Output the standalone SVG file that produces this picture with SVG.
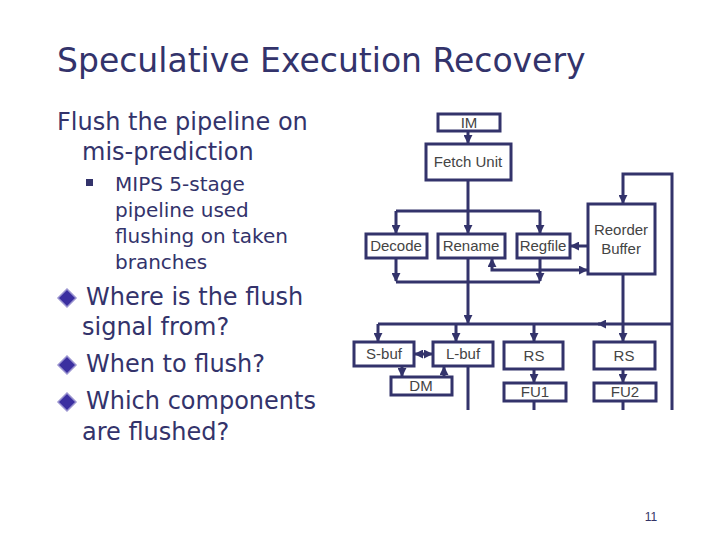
<svg xmlns="http://www.w3.org/2000/svg" width="720" height="540" viewBox="0 0 720 540">
<defs>
<style>
.t{font-family:"DejaVu Sans",sans-serif;fill:#33336b}
.b{fill:#fff;stroke:#33336b;stroke-width:3}
.l{fill:none;stroke:#33336b;stroke-width:3}
.n{font-family:"Liberation Sans",Arial,sans-serif;font-size:15px;fill:#444;text-anchor:middle}
</style>
<marker id="a" viewBox="0 0 10 10" refX="9" refY="5" markerWidth="3" markerHeight="3" orient="auto-start-reverse"><path d="M0,0L10,5L0,10z" fill="#33336b"/></marker>
</defs>
<rect width="720" height="540" fill="#fff"/>
<text class="t" x="57" y="72" font-size="33">Speculative Execution Recovery</text>
<text class="t" font-size="24"><tspan x="57" y="130">Flush the pipeline on</tspan><tspan x="82" y="160">mis-prediction</tspan></text>
<rect x="86" y="179" width="7" height="7" fill="#33336b"/>
<text class="t" font-size="20"><tspan x="115" y="191">MIPS 5-stage</tspan><tspan x="115" y="217">pipeline used</tspan><tspan x="115" y="243">flushing on taken</tspan><tspan x="115" y="269">branches</tspan></text>
<g fill="#3b2fa0" stroke="#9a94d0" stroke-width="1.5">
<path d="M67,289l9,9l-9,9l-9,-9z"/><path d="M67,356l9,9l-9,9l-9,-9z"/><path d="M67,393l9,9l-9,9l-9,-9z"/>
</g>
<text class="t" font-size="24"><tspan x="86" y="305">Where is the flush</tspan><tspan x="82" y="335">signal from?</tspan><tspan x="86" y="372">When to flush?</tspan><tspan x="86" y="409">Which components</tspan><tspan x="82" y="440">are flushed?</tspan></text>
<g id="connectors" class="l">
<path d="M468,131V143" marker-end="url(#a)"/>
<path d="M468,180V233" marker-end="url(#a)"/>
<path d="M396,211V233" marker-end="url(#a)"/>
<path d="M540,211V233" marker-end="url(#a)"/>
<path d="M396,211H540"/>
<path d="M396,258V281" marker-end="url(#a)"/>
<path d="M540,258V281" marker-end="url(#a)"/>
<path d="M396,282H540"/>
<path d="M468,258V323" marker-end="url(#a)"/>
<path d="M378,324H672"/>
<path d="M600,324h-2" marker-end="url(#a)"/>
<path d="M378,324V341" marker-end="url(#a)"/>
<path d="M456,324V341" marker-end="url(#a)"/>
<path d="M534,324V341" marker-end="url(#a)"/>
<path d="M623,274V341" marker-end="url(#a)"/>
<path d="M672,410V174H623V203" marker-end="url(#a)"/>
<path d="M587,246H571" marker-end="url(#a)"/>
<path d="M492,259V270H587" marker-start="url(#a)" marker-end="url(#a)"/>
<path d="M415,354H432" marker-start="url(#a)" marker-end="url(#a)"/>
<path d="M402,366V376" marker-end="url(#a)"/>
<path d="M444,377V367" marker-end="url(#a)"/>
<path d="M534,369V382" marker-end="url(#a)"/>
<path d="M623,369V382" marker-end="url(#a)"/>
<path d="M468,366V410M534,401V410M623,401V410"/>
</g>
<g id="IM"><rect class="b" x="438" y="114" width="62" height="17"/><text class="n" x="469" y="128">IM</text></g>
<g id="fetch"><rect class="b" x="426" y="144" width="85" height="36"/><text class="n" x="468" y="167">Fetch Unit</text></g>
<g id="decode"><rect class="b" x="366" y="234" width="61" height="24"/><text class="n" x="396" y="251">Decode</text></g>
<g id="rename"><rect class="b" x="438" y="234" width="67" height="24"/><text class="n" x="471" y="251">Rename</text></g>
<g id="regfile"><rect class="b" x="517" y="234" width="53" height="24"/><text class="n" x="543" y="251">Regfile</text></g>
<g id="rob"><rect class="b" x="588" y="204" width="67" height="70"/><text class="n" x="621" y="235">Reorder</text><text class="n" x="621" y="254">Buffer</text></g>
<g id="sbuf"><rect class="b" x="354" y="342" width="60" height="24"/><text class="n" x="384" y="359">S-buf</text></g>
<g id="lbuf"><rect class="b" x="433" y="342" width="60" height="24"/><text class="n" x="463" y="359">L-buf</text></g>
<g id="rs1"><rect class="b" x="504" y="342" width="59" height="27"/><text class="n" x="534" y="361">RS</text></g>
<g id="rs2"><rect class="b" x="594" y="342" width="61" height="27"/><text class="n" x="624" y="361">RS</text></g>
<g id="dm"><rect class="b" x="391" y="377" width="61" height="18"/><text class="n" x="421" y="391">DM</text></g>
<g id="fu1"><rect class="b" x="504" y="383" width="62" height="18"/><text class="n" x="535" y="397">FU1</text></g>
<g id="fu2"><rect class="b" x="594" y="383" width="62" height="18"/><text class="n" x="625" y="397">FU2</text></g>
<text x="651" y="521" font-family="Liberation Sans,sans-serif" font-size="12" fill="#333366" text-anchor="middle">11</text>
</svg>
